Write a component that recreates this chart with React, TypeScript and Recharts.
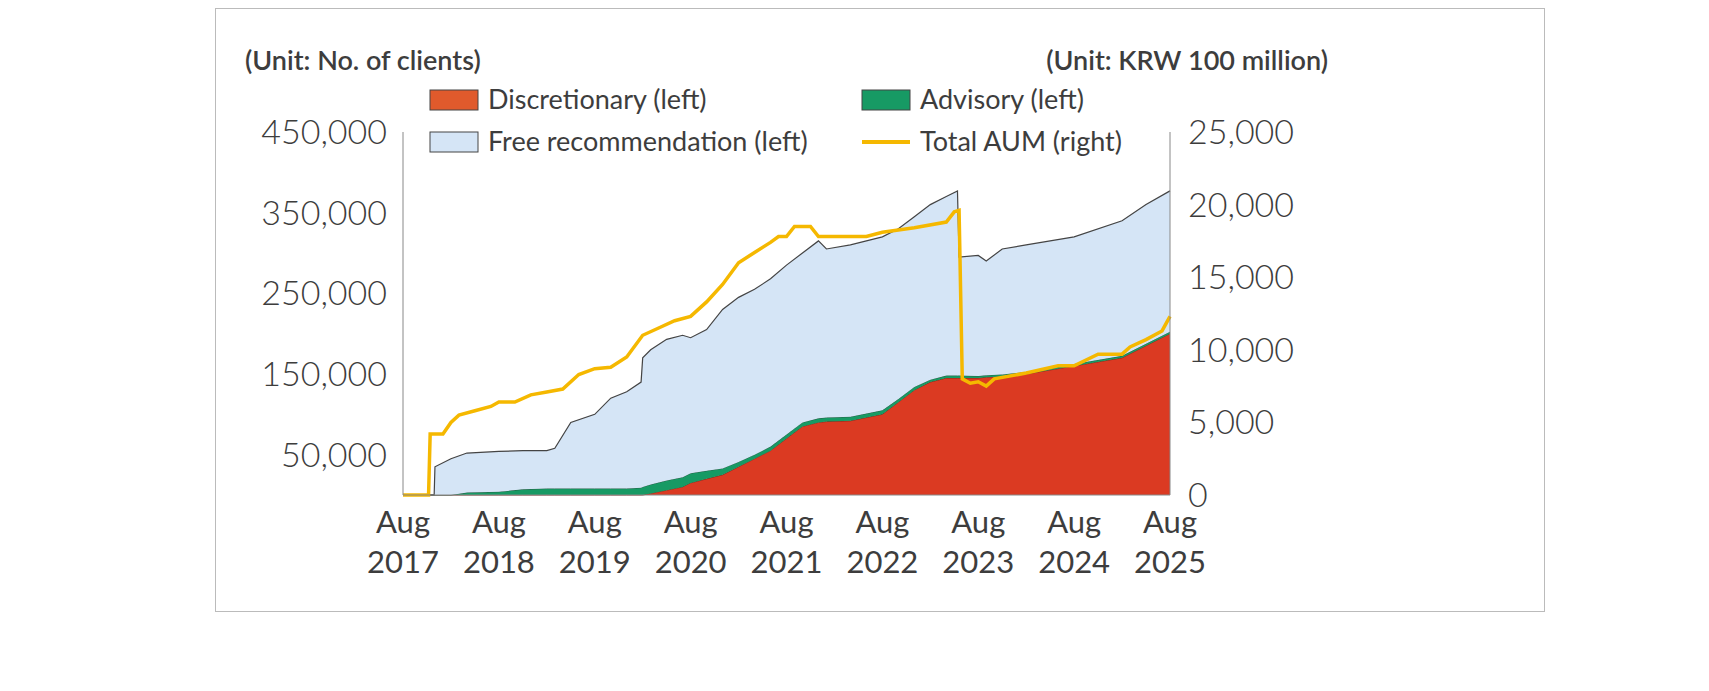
import { Area, ComposedChart, Line, XAxis, YAxis } from "recharts";

// month index from Aug 2017 (0) to Aug 2025 (96)
const months = [0, 3.9, 4, 6, 8, 12, 15, 18, 19, 21, 24, 26, 28, 29.8, 30, 31, 33, 35, 36, 38, 40, 42, 44, 46, 48, 50, 52, 53, 56, 60, 62, 64, 66, 68, 69.4, 69.6, 72, 73, 75, 78, 84, 90, 93, 96];
const totalClients = [0, 0, 35000, 45000, 52000, 54000, 55000, 55000, 58000, 90000, 100000, 120000, 128000, 140000, 170000, 180000, 193000, 198000, 195000, 205000, 230000, 245000, 255000, 268000, 285000, 300000, 315000, 305000, 310000, 320000, 330000, 345000, 360000, 370000, 377000, 295000, 297000, 290000, 305000, 310000, 320000, 340000, 360000, 377000];
const discretionary = [0, 0, 0, 0, 0, 0, 0, 0, 0, 0, 0, 0, 0, 0, 0, 2000, 6000, 10000, 15000, 20000, 25000, 35000, 45000, 55000, 70000, 85000, 90000, 91000, 92000, 100000, 115000, 130000, 140000, 145000, 145000, 145000, 145000, 146000, 147000, 150000, 160000, 170000, 185000, 200000];
const advisory = [0, 0, 0, 0, 3000, 4000, 7000, 8000, 8000, 8000, 8000, 8000, 8000, 9000, 10000, 11000, 12000, 12000, 12000, 10000, 8000, 6000, 5000, 5000, 5000, 5000, 5000, 5000, 5000, 5000, 4000, 4000, 3000, 3000, 3000, 3000, 2500, 2500, 2500, 2500, 2500, 2500, 2500, 2500];

const aumMonths = [0, 3.2, 3.4, 5, 6, 7, 9, 11, 12, 14, 16, 18, 20, 22, 24, 26, 28, 30, 32, 34, 36, 38, 40, 42, 44, 46, 47, 48, 49, 51, 52, 56, 58, 60, 64, 68, 69, 69.6, 70, 71, 72, 73, 74, 78, 82, 84, 87, 90, 91, 93, 95, 96];
const aum = [0, 0, 4200, 4200, 5000, 5500, 5800, 6100, 6400, 6400, 6900, 7100, 7300, 8300, 8700, 8800, 9500, 11000, 11500, 12000, 12300, 13300, 14500, 16000, 16700, 17400, 17800, 17800, 18500, 18500, 17800, 17800, 17800, 18100, 18400, 18800, 19500, 19600, 8000, 7700, 7800, 7500, 8000, 8400, 8900, 8900, 9700, 9700, 10200, 10700, 11300, 12300];

const yearLabels = ["2017", "2018", "2019", "2020", "2021", "2022", "2023", "2024", "2025"];
const leftTicks = [0, 50000, 100000, 150000, 200000, 250000, 300000, 350000, 400000, 450000];
const rightTicks = [0, 5000, 10000, 15000, 20000, 25000];

const areaData = months.map((m, i) => ({
  m,
  discretionary: discretionary[i],
  advisory: advisory[i],
  free: totalClients[i] - discretionary[i] - advisory[i],
}));
const aumData = aumMonths.map((m, i) => ({ m, aum: aum[i] }));

const font = "Lato, 'Open Sans', sans-serif";
const textColor = "#3d3d3d";

function YearTick({ x, y, payload }: any) {
  const label = yearLabels[Math.round(payload.value / 12)];
  return (
    <g transform={`translate(${x},${y})`}>
      <text textAnchor="middle" y={30} fontSize={31} fill={textColor} fontFamily={font}>Aug</text>
      <text textAnchor="middle" y={70} fontSize={31} fill={textColor} fontFamily={font}>{label}</text>
    </g>
  );
}

function LegendItem({ x, y, color, line, label }: any) {
  return (
    <g>
      {line ? (
        <rect x={x} y={y - 2} width={48} height={4} fill={color} />
      ) : (
        <rect x={x} y={y - 10} width={48} height={20} fill={color} stroke="#444" strokeWidth={1} />
      )}
      <text x={x + 58} y={y + 9} fontSize={27} fill={textColor} fontFamily={font}>{label}</text>
    </g>
  );
}

export default function App() {
  return (
    <div style={{ position: "absolute", left: 0, top: 0, width: 1709, height: 691, background: "#fff" }}>
      <div style={{ position: "absolute", left: 215, top: 8, width: 1330, height: 604, border: "1px solid #bbb", boxSizing: "border-box" }} />
      <ComposedChart
        width={1709}
        height={691}
        margin={{ top: 132, left: 223, right: 369, bottom: 86 }}
        style={{ position: "absolute", left: 0, top: 0 }}
      >
        <XAxis
          dataKey="m"
          type="number"
          domain={[0, 96]}
          ticks={[0, 12, 24, 36, 48, 60, 72, 84, 96]}
          tick={<YearTick />}
          tickLine={false}
          height={110}
          stroke="#888"
          allowDuplicatedCategory={false}
        />
        <YAxis
          yAxisId="left"
          width={180}
          domain={[0, 450000]}
          ticks={leftTicks}
          tickFormatter={(v: number) => v.toLocaleString("en-US")}
          tick={{ fontSize: 34, fill: textColor, fontFamily: font, fontWeight: 300 }}
          tickLine={false}
          tickMargin={10}
          stroke="#888"
        />
        <YAxis
          yAxisId="right"
          orientation="right"
          width={170}
          domain={[0, 25000]}
          ticks={rightTicks}
          tickFormatter={(v: number) => v.toLocaleString("en-US")}
          tick={{ fontSize: 34, fill: textColor, fontFamily: font, fontWeight: 300 }}
          tickLine={false}
          tickMargin={12}
          stroke="#888"
        />
        <Area data={areaData} yAxisId="left" dataKey="discretionary" stackId="a" type="linear" fill="#db3a22" fillOpacity={1} stroke="#8a2a1a" strokeWidth={1} isAnimationActive={false} />
        <Area data={areaData} yAxisId="left" dataKey="advisory" stackId="a" type="linear" fill="#179a64" fillOpacity={1} stroke="#245f45" strokeWidth={1} isAnimationActive={false} />
        <Area data={areaData} yAxisId="left" dataKey="free" stackId="a" type="linear" fill="#d5e5f6" fillOpacity={1} stroke="#444" strokeWidth={1.2} isAnimationActive={false} />
        <Line data={aumData} yAxisId="right" dataKey="aum" type="linear" stroke="#f5b800" strokeWidth={3.5} dot={false} isAnimationActive={false} />
        <text x={245} y={70} fontSize={27} fontWeight={600} fill={textColor} fontFamily={font}>(Unit: No. of clients)</text>
        <text x={1328} y={70} fontSize={27} fontWeight={600} fill={textColor} fontFamily={font} textAnchor="end">(Unit: KRW 100 million)</text>
        <LegendItem x={430} y={100} color="#e05a2c" label="Discretionary (left)" />
        <LegendItem x={862} y={100} color="#179a64" label="Advisory (left)" />
        <LegendItem x={430} y={142} color="#d5e5f6" label="Free recommendation (left)" />
        <LegendItem x={862} y={142} color="#f5b800" line label="Total AUM (right)" />
      </ComposedChart>
    </div>
  );
}
